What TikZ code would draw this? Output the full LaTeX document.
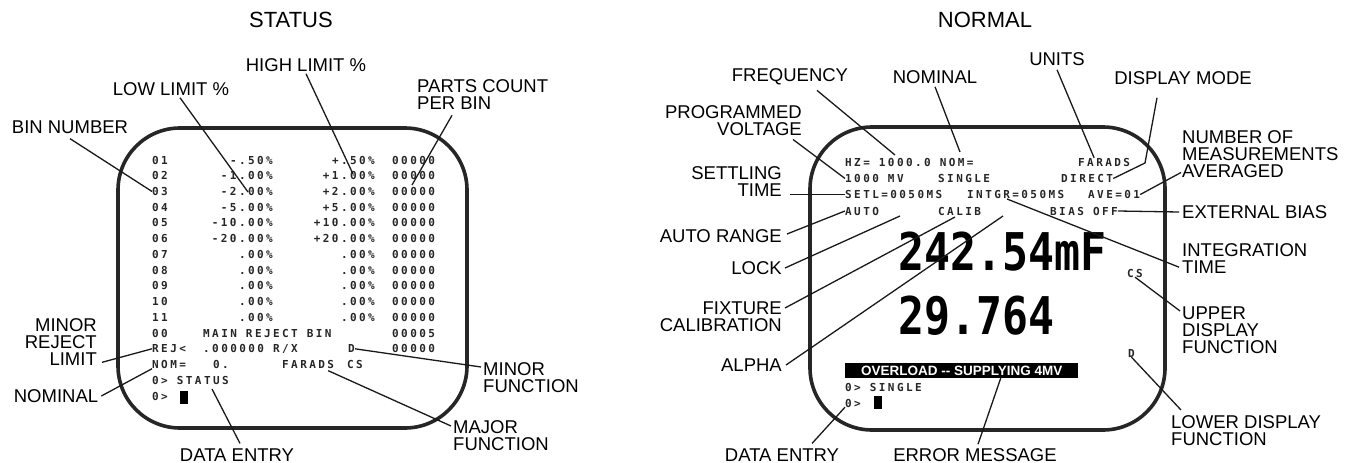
\documentclass[tikz,border=0pt]{standalone}
\usepackage{fontspec}
\usepackage{tikz}
\usetikzlibrary{positioning}
\setmainfont{Liberation Sans}
\newfontfamily\scrfont[LetterSpace=22]{DejaVu Sans Mono}
\newfontfamily\bigfont[FakeStretch=0.83]{DejaVu Sans Mono}
\newcommand\lblsize{\fontsize{18.5}{17}\selectfont}
\newcommand\ttlsize{\fontsize{22}{24}\selectfont}
\newcommand\scrsize{\scrfont\bfseries\fontsize{11}{11}\selectfont}
\newcommand\bigsize{\bigfont\bfseries\fontsize{52}{52}\selectfont}

\begin{document}
\begin{tikzpicture}[x=1pt, y=-1pt,
  lbl/.style={font=\lblsize, inner sep=1pt},
  ttl/.style={font=\ttlsize, inner sep=1pt},
  scr/.style={font=\scrsize, text=black!85, inner sep=0pt, text height=8pt, text depth=0pt},
  crt/.style={line width=3.6pt, black!85, rounded corners=62pt},
  lead/.style={line width=1.3pt, black!90},
  cursor/.style={fill=black, minimum width=8pt, minimum height=13pt, inner sep=0pt}]
\useasboundingbox (0,0) rectangle (1352,463);

% ---- STATUS screen ----
\node[ttl] (status) at (291,20) {STATUS};
\draw[crt] (118,128) rectangle (467,428);

\foreach \b/\lo/\hi [count=\i] in {01/-.50/+.50, 02/-1.00/+1.00, 03/-2.00/+2.00,
    04/-5.00/+5.00, 05/-10.00/+10.00, 06/-20.00/+20.00, 07/.00/.00, 08/.00/.00,
    09/.00/.00, 10/.00/.00, 11/.00/.00} {
  \node[scr, anchor=west] (bin\i) at (152, {160+15.73*(\i-1)}) {\b};
  \node[scr, anchor=east] (lo\i) at (273, {160+15.73*(\i-1)}) {\lo\%};
  \node[scr, anchor=east] (hi\i) at (375, {160+15.73*(\i-1)}) {\hi\%};
  \node[scr, anchor=west] (cnt\i) at (392, {160+15.73*(\i-1)}) {00000};
}
\node[scr, anchor=west] (bin0) at (152,333) {00};
\node[scr, anchor=west] (mainrej) at (203,333) {MAIN REJECT BIN};
\node[scr, anchor=west] (cnt0) at (392,333) {00005};
\node[scr, anchor=west] (rej) at (152,348.8) {REJ<};
\node[scr, anchor=west] (rejval) at (203,348.8) {.000000 R/X};
\node[scr, anchor=west] (rejD) at (348,348.8) {D};
\node[scr, anchor=west] (cntr) at (392,348.8) {00000};
\node[scr, anchor=west] (nom) at (152,364.5) {NOM=};
\node[scr, anchor=west] (nomval) at (213,364.5) {0.};
\node[scr, anchor=west] (faradsL) at (282,364.5) {FARADS};
\node[scr, anchor=west] (csL) at (347,364.5) {CS};
\node[scr, anchor=west] (prmL1) at (152,380.2) {0> STATUS};
\node[scr, anchor=west] (prmL2) at (152,396) {0>};
\node[cursor] (curL) at (184,397) {};

\node[lbl] (binno) at (70,127) {BIN NUMBER};
\node[lbl] (lowlim) at (171,89) {LOW LIMIT \%};
\node[lbl] (highlim) at (306,65) {HIGH LIMIT \%};
\node[lbl, anchor=north west, align=left] (parts) at (416,78) {PARTS COUNT\\PER BIN};
\node[lbl, anchor=north east, align=right] (minrej) at (98,317) {MINOR\\REJECT\\LIMIT};
\node[lbl] (nomL) at (56,396) {NOMINAL};
\node[lbl] (dentL) at (237,455) {DATA ENTRY};
\node[lbl, anchor=north west, align=left] (minfn) at (482,361) {MINOR\\FUNCTION};
\node[lbl, anchor=north west, align=left] (majfn) at (452,419) {MAJOR\\FUNCTION};

\coordinate (lowpt) at (248,192);
\coordinate (highpt) at (353,174);
\coordinate (partspt) at (412,185);
\coordinate (statpt) at (212,389);

\draw[lead] ([yshift=-4pt]binno.south) -- (bin3.west);
\draw[lead] ([xshift=9pt,yshift=-1pt]lowlim.south) -- (lowpt);
\draw[lead] ([yshift=-1pt]highlim.south) -- (highpt);
\draw[lead] ([xshift=36pt,yshift=-5pt]parts.south west) -- (partspt);
\draw[lead] ([xshift=4pt,yshift=4pt]minrej.south east) -- (rej.west);
\draw[lead] ([xshift=2pt]nomL.east) -- (nom.south west);
\draw[lead] ([xshift=3pt,yshift=4pt]dentL.north) -- (statpt);
\draw[lead] (rejD.east) -- ([xshift=-1pt,yshift=-6pt]minfn.north west);
\draw[lead] ([xshift=-6pt,yshift=-2pt]faradsL.south east) -- ([xshift=-1pt,yshift=-7pt]majfn.north west);

% ---- NORMAL screen ----
\node[ttl] (normal) at (985,20) {NORMAL};
\draw[crt] (810,127) rectangle (1165,430);

\node[scr, anchor=west] (hz) at (845,162) {HZ= 1000.0 NOM=};
\node[scr, anchor=west] (faradsR) at (1078,162) {FARADS};
\node[scr, anchor=west] (volt) at (845,178.5) {1000 MV};
\node[scr, anchor=west] (single) at (938,178.5) {SINGLE};
\node[scr, anchor=west] (direct) at (1061,178.5) {DIRECT};
\node[scr, anchor=west] (setl) at (845,194.5) {SETL=0050MS};
\node[scr, anchor=west] (intgr) at (967,194.5) {INTGR=050MS};
\node[scr, anchor=west] (ave) at (1088,194.5) {AVE=01};
\node[scr, anchor=west] (auto) at (845,211) {AUTO};
\node[scr, anchor=west] (calib) at (938,211) {CALIB};
\node[scr, anchor=west] (bias) at (1050,211) {BIAS OFF};
\node[anchor=west, font=\bigsize, inner sep=0pt, text height=38pt, text depth=0pt] (upper) at (898,251) {242.54mF};
\node[anchor=west, font=\bigsize, inner sep=0pt, text height=38pt, text depth=0pt] (lower) at (898,315) {29.764};
\node[scr, anchor=west] (csR) at (1127,273) {CS};
\node[scr, anchor=west] (dR) at (1128,353) {D};
\node[fill=black, text=white, font=\bfseries\fontsize{13.5}{14}\selectfont, minimum width=233pt,
  minimum height=15pt, inner sep=0pt, anchor=west] (ovl) at (845,370.5) {OVERLOAD -{}- SUPPLYING 4MV};
\node[scr, anchor=west] (prmR1) at (845,387) {0> SINGLE};
\node[scr, anchor=west] (prmR2) at (845,403) {0>};
\node[cursor] (curR) at (878,402) {};

\node[lbl] (freq) at (790,77) {FREQUENCY};
\node[lbl] (nomR) at (935,77) {NOMINAL};
\node[lbl] (units) at (1057,59) {UNITS};
\node[lbl] (dmode) at (1183,78) {DISPLAY MODE};
\node[lbl, anchor=north east, align=right] (progv) at (803,104) {PROGRAMMED\\VOLTAGE};
\node[lbl, anchor=north east, align=right] (settle) at (783,165) {SETTLING\\TIME};
\node[lbl, anchor=east] (autor) at (783,236) {AUTO RANGE};
\node[lbl, anchor=east] (lock) at (783,268) {LOCK};
\node[lbl, anchor=north east, align=right] (fixcal) at (783,301) {FIXTURE\\CALIBRATION};
\node[lbl, anchor=east] (alpha) at (783,365) {ALPHA};
\node[lbl] (dentR) at (782,455) {DATA ENTRY};
\node[lbl] (errmsg) at (975,455) {ERROR MESSAGE};
\node[lbl, anchor=north west, align=left] (nmeas) at (1181,129) {NUMBER OF\\MEASUREMENTS\\AVERAGED};
\node[lbl, anchor=west] (extb) at (1181,212) {EXTERNAL BIAS};
\node[lbl, anchor=north west, align=left] (inttime) at (1181,242) {INTEGRATION\\TIME};
\node[lbl, anchor=north west, align=left] (updf) at (1181,306) {UPPER\\DISPLAY\\FUNCTION};
\node[lbl, anchor=north west, align=left] (lowdf) at (1170,414) {LOWER DISPLAY\\FUNCTION};

\coordinate (freqpt) at (895,155);
\coordinate (nompt) at (960,152);
\coordinate (lockpt) at (900,216);
\coordinate (calpt) at (955,217);
\coordinate (alphapt) at (1003,216);
\coordinate (intgrpt) at (1007,199);
\coordinate (modept) at (1145,163);

\draw[lead] ([xshift=27pt,yshift=-4pt]freq.south) -- (freqpt);
\draw[lead] ([yshift=-2pt]nomR.south) -- (nompt);
\draw[lead] ([xshift=-10pt,yshift=-3pt]progv.south east) -- (volt.west);
\draw[lead] ([xshift=7pt]setl.west -| settle.east) -- (setl.west);
\draw[lead] ([xshift=4pt,yshift=2pt]autor.east) -- (auto.west);
\draw[lead] ([xshift=2pt]lock.east) -- (lockpt);
\draw[lead] ([xshift=2pt,yshift=-7pt]fixcal.north east) -- (calpt);
\draw[lead] ([xshift=3pt]alpha.east) -- (alphapt);
\draw[lead] ([xshift=-2pt,yshift=-9pt]inttime.west) -- (intgrpt);
\draw[lead] ([xshift=-26pt,yshift=-12pt]dmode.south) -- (modept) -- (direct.east);
\draw[lead] ([yshift=-3pt]units.south) -- ([xshift=-10pt]faradsR.north);
\draw[lead] ([yshift=6pt]nmeas.south west) -- (ave.east);
\draw[lead] ([xshift=-2pt]extb.west) -- (bias.east);
\draw[lead] ([xshift=-1pt,yshift=-5pt]updf.north west) -- (csR.south);
\draw[lead] ([xshift=11pt,yshift=4pt]lowdf.north west) -- (dR.south);
\draw[lead] ([xshift=30pt,yshift=4pt]dentR.north) -- (prmR2.south west);
\draw[lead] ([xshift=3pt,yshift=3pt]errmsg.north) -- ([xshift=39pt]ovl.south);
\end{tikzpicture}
\end{document}
